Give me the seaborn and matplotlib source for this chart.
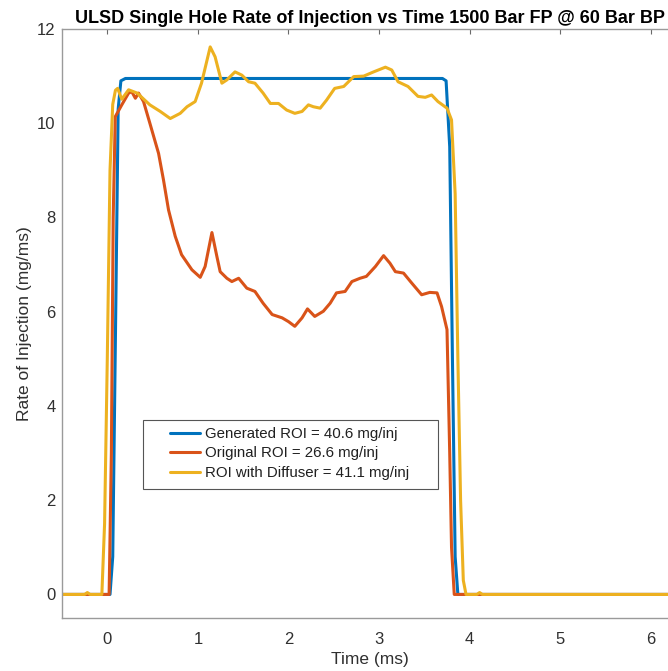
import numpy as np
import pandas as pd
import matplotlib
matplotlib.use("Agg")
import matplotlib.pyplot as plt
from matplotlib.patches import Rectangle
import seaborn as sns

# ---------------- data ----------------
labels = ["Generated ROI = 40.6 mg/inj",
          "Original ROI = 26.6 mg/inj",
          "ROI with Diffuser = 41.1 mg/inj"]

gen_t = [-0.5, 0.03, 0.06, 0.09, 0.12, 0.15, 0.2, 3.70, 3.74, 3.78, 3.81, 3.84, 3.87, 6.3]
gen_r = [0.0, 0.0, 0.8, 5.5, 10.3, 10.9, 10.95, 10.95, 10.9, 9.5, 5.0, 0.8, 0.0, 0.0]

orig_t = [-0.5, 0.02, 0.045, 0.065, 0.088, 0.16, 0.235, 0.27, 0.31, 0.345, 0.40, 0.47,
          0.566, 0.62, 0.676, 0.75, 0.82, 0.934, 1.026, 1.08, 1.155, 1.21, 1.246, 1.32,
          1.375, 1.45, 1.54, 1.63, 1.72, 1.82, 1.93, 2.00, 2.07, 2.15, 2.21, 2.29, 2.385,
          2.46, 2.53, 2.625, 2.70, 2.79, 2.86, 2.96, 3.05, 3.12, 3.18, 3.27, 3.36, 3.47,
          3.56, 3.64, 3.69, 3.75, 3.78, 3.80, 3.83, 6.3]
orig_r = [0.0, 0.0, 3.0, 8.0, 10.14, 10.39, 10.64, 10.67, 10.53, 10.64, 10.46, 10.0,
          9.36, 8.80, 8.16, 7.60, 7.21, 6.89, 6.73, 6.96, 7.68, 7.17, 6.85, 6.71,
          6.64, 6.71, 6.50, 6.43, 6.18, 5.94, 5.87, 5.79, 5.69, 5.87, 6.06, 5.90, 6.01,
          6.18, 6.40, 6.43, 6.64, 6.71, 6.75, 6.96, 7.19, 7.03, 6.85, 6.82, 6.61, 6.36,
          6.41, 6.40, 6.11, 5.62, 3.0, 1.0, 0.0, 0.0]

diff_t = [-0.5, -0.25, -0.22, -0.19, -0.06, -0.03, 0.0, 0.03, 0.06, 0.09, 0.114, 0.16,
          0.235, 0.33, 0.47, 0.585, 0.695, 0.805, 0.88, 0.97, 1.04, 1.136, 1.19, 1.265,
          1.32, 1.41, 1.486, 1.56, 1.63, 1.72, 1.80, 1.89, 1.98, 2.07, 2.15, 2.22, 2.275,
          2.35, 2.42, 2.51, 2.61, 2.72, 2.83, 2.94, 3.07, 3.14, 3.21, 3.32, 3.43, 3.51,
          3.58, 3.65, 3.75, 3.80, 3.84, 3.87, 3.90, 3.93, 3.96, 4.08, 4.11, 4.14, 6.3]
diff_r = [0.0, 0.0, 0.04, 0.0, 0.0, 1.5, 5.0, 9.0, 10.4, 10.7, 10.74, 10.51,
          10.71, 10.64, 10.39, 10.25, 10.10, 10.21, 10.35, 10.46, 10.85, 11.62, 11.41, 10.85,
          10.92, 11.09, 11.02, 10.88, 10.85, 10.64, 10.42, 10.42, 10.28, 10.21, 10.25, 10.39, 10.35,
          10.32, 10.49, 10.74, 10.78, 10.99, 11.00, 11.09, 11.19, 11.13, 10.88, 10.78, 10.57, 10.55,
          10.60, 10.46, 10.32, 10.07, 8.5, 5.0, 2.0, 0.3, 0.0, 0.0, 0.04, 0.0, 0.0]

colors = ["#0072BD", "#D95319", "#EDB120"]

title = "ULSD Single Hole Rate of Injection vs Time 1500 Bar FP @ 60 Bar BP"
xlabel = "Time (ms)"
ylabel = "Rate of Injection (mg/ms)"
xticks = [0, 1, 2, 3, 4, 5, 6]
yticks = [0, 2, 4, 6, 8, 10, 12]

# ---------------- build long table ----------------
frames = []
for lab, t, r in zip(labels, [gen_t, orig_t, diff_t], [gen_r, orig_r, diff_r]):
    frames.append(pd.DataFrame({"t": t, "r": r, "series": lab}))
df = pd.concat(frames, ignore_index=True)

sns.set_theme(style="white")
plt.rcParams["font.family"] = ["Liberation Sans", "DejaVu Sans"]
plt.rcParams["lines.solid_joinstyle"] = "round"
plt.rcParams["lines.solid_capstyle"] = "round"

W, H = 668, 671
fig = plt.figure(figsize=(W / 100, H / 100), dpi=100)
ax_l, ax_r, ax_t, ax_b = 62, 678, 29, 618
ax = fig.add_axes([ax_l / W, 1 - ax_b / H, (ax_r - ax_l) / W, (ax_b - ax_t) / H])

sns.lineplot(data=df, x="t", y="r", hue="series", palette=colors, sort=False,
             estimator=None, linewidth=2.2, ax=ax)
for ln in ax.get_lines():
    ln.set_solid_joinstyle("round")
    ln.set_solid_capstyle("round")

ax.set_xlim(-0.5, 6.3)
ax.set_ylim(-0.5, 12)
ax.set_xticks(xticks)
ax.set_yticks(yticks)
ax.set_xticklabels([str(v) for v in xticks])
ax.set_yticklabels([str(v) for v in yticks])

spine_col = "#9a9a9a"
for s in ax.spines.values():
    s.set_visible(True)
    s.set_color(spine_col)
    s.set_linewidth(1.0)

ax.tick_params(axis="both", direction="in", length=3.6, width=0.8, color="#6a6a6a",
               labelsize=12, labelcolor="#303030", top=True, right=True)
ax.tick_params(axis="x", pad=10)
ax.tick_params(axis="y", pad=4.5)

ax.set_xlabel(xlabel, fontsize=12.5, color="#303030", labelpad=4)
ax.set_ylabel(ylabel, fontsize=12.5, color="#303030", labelpad=4)
ax.set_title(title, fontsize=13, fontweight="bold", color="black", pad=4)
ax.grid(False)

# legend (frame drawn separately to match MATLAB padding)
handles, labs = ax.get_legend_handles_labels()
def ax_fx(px):
    return (px - ax_l) / (ax_r - ax_l)
def ax_fy(py):
    return (ax_b - py) / (ax_b - ax_t)

leg = ax.legend(handles, labs, loc="center left",
                bbox_to_anchor=(ax_fx(170), ax_fy(453.5)), frameon=False,
                fontsize=10.8, handlelength=2.0, handletextpad=0.35,
                labelspacing=0.38, borderpad=0, borderaxespad=0)
for h in leg.get_lines():
    h.set_linewidth(2.2)
for txt in leg.get_texts():
    txt.set_color("#202020")

ax.add_patch(Rectangle((ax_fx(143), ax_fy(489)), ax_fx(438) - ax_fx(143),
                       ax_fy(420) - ax_fy(489), transform=ax.transAxes,
                       fill=True, facecolor="white", edgecolor="#555555",
                       linewidth=0.8, zorder=4))
leg.set_zorder(5)

fig.savefig("out.png", dpi=100)
